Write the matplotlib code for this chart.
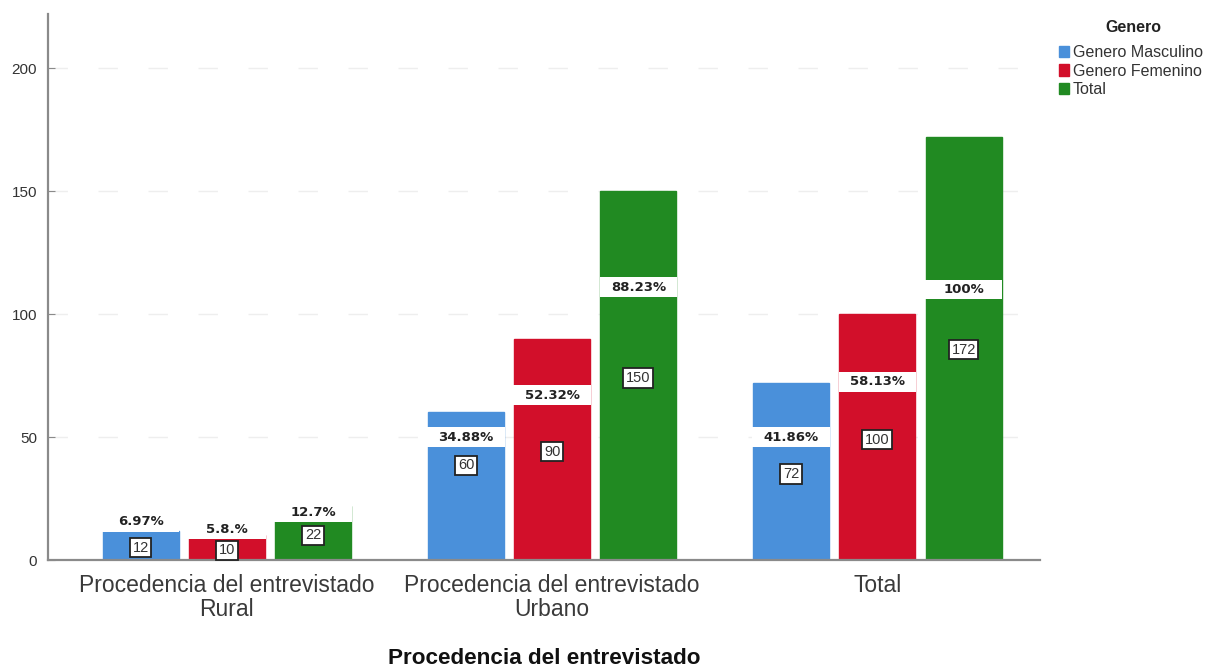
import matplotlib
matplotlib.use("Agg")
import matplotlib.pyplot as plt
from matplotlib.patches import Patch
import numpy as np

# Data
categories = ["Procedencia del entrevistado\nRural",
              "Procedencia del entrevistado\nUrbano",
              "Total"]
series_names = ["Genero Masculino", "Genero Femenino", "Total"]
masculino = [12, 60, 72]
femenino = [10, 90, 100]
total = [22, 150, 172]
pct_masculino = ["6.97%", "34.88%", "41.86%"]
pct_femenino = ["5.8.%", "52.32%", "58.13%"]
pct_total = ["12.7%", "88.23%", "100%"]

# Label placement (y, in axis units) for each series
pct_label_y = [[15.5, 50, 50], [12.5, 67, 72.5], [19.5, 111, 110]]
count_label_y = [[5, 38.5, 35], [4, 44, 49], [10, 74, 85.5]]

colors = ["#4a90da", "#d20f2a", "#218a22"]
axis_grey = "#8a8a8a"

plt.rcParams["font.family"] = ["Liberation Sans", "DejaVu Sans"]

fig = plt.figure(figsize=(12.12, 6.71), dpi=100)
ax = fig.add_axes([0.0396, 0.1654, 0.8185, 0.8136])

x = np.arange(len(categories))
width = 0.234
offsets = [-0.265, 0.0, 0.265]
series = [masculino, femenino, total]
pcts = [pct_masculino, pct_femenino, pct_total]

# faint dashed reference lines
for yv in [50, 100, 150, 200]:
    ax.axhline(yv, color="#d0d0d0", lw=1.0, ls=(0, (14, 22)), alpha=0.35, zorder=0)

for vals, off, col in zip(series, offsets, colors):
    ax.bar(x + off, vals, width=width, color=col, edgecolor=col, zorder=2)

band_h = 8
for vals, labels, off, pys, cys in zip(series, pcts, offsets, pct_label_y, count_label_y):
    for xi, v, lab, ly, cy in zip(x, vals, labels, pys, cys):
        xc = xi + off
        # percentage label on a white band across the bar
        ax.bar(xc, band_h, bottom=ly - band_h / 2, width=width + 0.004,
               color="white", edgecolor="none", zorder=3)
        ax.text(xc, ly, lab, ha="center", va="center", fontsize=9.5,
                fontweight="bold", family="DejaVu Sans", color="#222222", zorder=4)
        # count label in a bordered box
        ax.text(xc, cy, str(v), ha="center", va="center", fontsize=10.5,
                color="#333333", zorder=5,
                bbox=dict(boxstyle="square,pad=0.18", fc="white",
                          ec="#222222", lw=1.3))

ax.set_xlim(-0.55, 2.5)
ax.set_ylim(0, 222)
ax.set_yticks([0, 50, 100, 150, 200])
ax.set_xticks(x)
ax.set_xticklabels(categories, fontsize=16.5, color="#3a3a3a", linespacing=1.08)
ax.tick_params(axis="y", direction="in", length=5, color=axis_grey,
               labelsize=11, labelcolor="#333333", pad=8)
ax.tick_params(axis="x", length=0, pad=10)

for s in ["top", "right"]:
    ax.spines[s].set_visible(False)
for s in ["left", "bottom"]:
    ax.spines[s].set_color(axis_grey)
    ax.spines[s].set_linewidth(1.6)

ax.set_xlabel("Procedencia del entrevistado", fontsize=16.2, fontweight="bold",
              color="#111111", labelpad=19)

# legend: title drawn separately so it sits a little above the entries
handles = [Patch(facecolor=c, edgecolor=c) for c in colors]
leg = fig.legend(handles, series_names, loc="upper left",
                 bbox_to_anchor=(1059 / 1212, 1 - 45 / 671), frameon=False,
                 fontsize=11.5, labelcolor="#333333",
                 handlelength=0.6, handleheight=0.7, handletextpad=0.25,
                 labelspacing=0.22, borderpad=0.0, borderaxespad=0.0)
fig.text(1133 / 1212, 1 - 27 / 671, "Genero", ha="center", va="center",
         fontsize=11.5, fontweight="bold", color="#222222")

fig.savefig("out.png", dpi=100, facecolor="white")
